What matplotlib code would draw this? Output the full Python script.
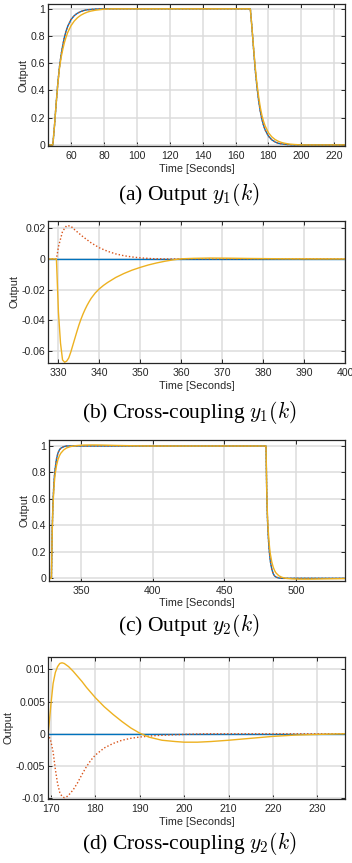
import matplotlib
matplotlib.use("Agg")
import matplotlib.pyplot as plt
from matplotlib.ticker import FuncFormatter

plt.rcParams['font.family'] = ['Liberation Sans', 'DejaVu Sans']
plt.rcParams['mathtext.fontset'] = 'cm'
plt.rcParams['axes.unicode_minus'] = False

BLUE = '#0072BD'
RED = '#D95319'
YELLOW = '#EDB120'
DARK = '#262626'
GRID = '#dcdcdc'

# ---- (a) Output y1(k) ----
a_blue_t = [46, 49, 50, 51, 52, 53, 54, 55, 56, 57, 58, 60, 62, 64, 66, 68, 70, 75, 80,
            169, 170, 171, 172, 173, 174, 175, 176, 177, 178, 180, 182, 184, 186, 190, 195, 226.5]
a_blue_y = [0, 0, 0.14, 0.30, 0.45, 0.57, 0.66, 0.73, 0.79, 0.835, 0.87, 0.92, 0.95, 0.968, 0.98, 0.988, 0.993, 0.998, 1.0,
            1.0, 0.86, 0.70, 0.55, 0.43, 0.33, 0.25, 0.19, 0.145, 0.11, 0.065, 0.038, 0.022, 0.012, 0.004, 0.0, 0.0]
a_yel_t = [46, 49, 50, 51, 52, 53, 54, 55, 56, 57, 58, 60, 62, 64, 66, 68, 70, 72, 75, 80, 85,
           169, 170, 171, 172, 173, 174, 175, 176, 177, 178, 180, 182, 184, 186, 188, 190, 193, 196, 200, 226.5]
a_yel_y = [0, 0, 0.14, 0.30, 0.44, 0.56, 0.64, 0.70, 0.75, 0.79, 0.825, 0.875, 0.91, 0.935, 0.953, 0.966, 0.976, 0.983, 0.99, 0.997, 1.0,
           1.0, 0.86, 0.71, 0.57, 0.45, 0.36, 0.28, 0.22, 0.175, 0.14, 0.09, 0.06, 0.04, 0.027, 0.018, 0.012, 0.006, 0.003, 0.0, 0.0]

# ---- (b) Cross-coupling y1(k) ----
b_blue_t = [327.5, 400]
b_blue_y = [0, 0]
b_red_t = [327.5, 329.5, 330, 331, 332, 333, 334, 336, 338, 340, 342, 344, 346, 348, 350, 353, 356, 400]
b_red_y = [0, 0, 0.008, 0.018, 0.0218, 0.0215, 0.019, 0.0145, 0.0105, 0.0073, 0.005, 0.0033, 0.0021, 0.0013, 0.0007, 0.0002, 0, 0]
b_yel_t = [327.5, 329.5, 330, 330.5, 331, 331.5, 332, 332.5, 333, 333.5, 334, 334.5, 335, 335.5, 336, 336.5, 337,
           337.5, 338, 339, 340, 341, 342, 344, 346, 348, 350, 352, 354, 356, 358, 360, 363, 367, 372, 377, 385, 400]
b_yel_y = [0, 0, -0.035, -0.055, -0.066, -0.0675, -0.0668, -0.0648, -0.061, -0.0565, -0.052, -0.0475, -0.0432,
           -0.0394, -0.036, -0.033, -0.0303, -0.0279, -0.0257, -0.0222, -0.0195, -0.0173, -0.0154, -0.0121, -0.0095,
           -0.0073, -0.0055, -0.0039, -0.0026, -0.0015, -0.0006, 0.0001, 0.0004, 0.0006, 0.0005, 0.0003, 0.0001, 0]

# ---- (c) Output y2(k) ----
c_blue_t = [328, 329.5, 330, 330.5, 331, 331.5, 332, 333, 334, 335, 336, 338, 340,
            479, 479.5, 480, 480.5, 481, 481.5, 482, 483, 484, 485, 486, 488, 490, 534]
c_blue_y = [0, 0, 0.35, 0.55, 0.67, 0.76, 0.82, 0.90, 0.945, 0.97, 0.983, 0.995, 1.0,
            1.0, 0.65, 0.45, 0.33, 0.24, 0.18, 0.13, 0.07, 0.035, 0.018, 0.009, 0.002, 0, 0]
c_yel_t = [328, 329.5, 330, 330.5, 331, 331.5, 332, 333, 334, 335, 336, 338, 340, 343, 347, 352, 358, 365, 375, 390, 400,
           479, 479.5, 480, 480.5, 481, 481.5, 482, 483, 484, 485, 486, 488, 490, 493, 497, 502, 510, 520, 534]
c_yel_y = [0, 0, 0.33, 0.52, 0.64, 0.72, 0.78, 0.85, 0.895, 0.925, 0.945, 0.97, 0.985, 0.996, 1.003, 1.007, 1.008, 1.007, 1.004, 1.001, 1.0,
           1.0, 0.67, 0.48, 0.37, 0.29, 0.23, 0.185, 0.125, 0.085, 0.058, 0.04, 0.019, 0.008, 0.0, -0.004, -0.006, -0.006, -0.004, -0.002]

# ---- (d) Cross-coupling y2(k) ----
d_blue_t = [169.4, 236.2]
d_blue_y = [0, 0]
d_red_t = [169.4, 170, 170.5, 171, 171.5, 172, 172.5, 173, 173.5, 174, 175, 176, 177, 178, 179, 180,
           182, 184, 186, 188, 190, 193, 196, 200, 205, 236.2]
d_red_y = [0, -0.0012, -0.0028, -0.0055, -0.0077, -0.0091, -0.0097, -0.0099, -0.0098, -0.0095, -0.0087, -0.0076,
           -0.0063, -0.0051, -0.0041, -0.0033, -0.0022, -0.0015, -0.001, -0.0007, -0.0005, -0.0003, -0.0002, -0.0001, 0, 0]
d_yel_t = [169.4, 170, 170.5, 171, 171.5, 172, 172.5, 173, 174, 175, 176, 177, 178, 179, 180, 182, 184, 186, 188,
           190, 192, 195, 198, 200, 203, 206, 210, 215, 220, 225, 230, 236.2]
d_yel_y = [0, 0.0045, 0.0078, 0.0095, 0.0104, 0.0109, 0.011, 0.0109, 0.0104, 0.0097, 0.0089, 0.0081, 0.0072,
           0.0064, 0.0056, 0.0042, 0.003, 0.0019, 0.0009, 0.0001, -0.0005, -0.001, -0.0012, -0.0013, -0.0013,
           -0.0012, -0.001, -0.0007, -0.0004, -0.0002, -0.0001, 0]

panels = [
    dict(rect=[0.137, 0.8308, 0.843, 0.1645], xlim=(46.2, 226.5), ylim=(-0.008, 1.035),
         xticks=range(60, 221, 20), yticks=[0, 0.2, 0.4, 0.6, 0.8, 1],
         blue=(a_blue_t, a_blue_y), red=(a_blue_t, a_blue_y), yel=(a_yel_t, a_yel_y),
         caption=r'(a) Output $y_1(k)$', cap_y=1 - 195 / 863),
    dict(rect=[0.137, 0.5794, 0.843, 0.1645], xlim=(327.5, 400), ylim=(-0.068, 0.0248),
         xticks=range(330, 401, 10), yticks=[-0.06, -0.04, -0.02, 0, 0.02],
         blue=(b_blue_t, b_blue_y), red=(b_red_t, b_red_y), yel=(b_yel_t, b_yel_y),
         caption=r'(b) Cross-coupling $y_1(k)$', cap_y=1 - 412 / 863),
    dict(rect=[0.140, 0.3271, 0.840, 0.163], xlim=(328, 534), ylim=(-0.018, 1.045),
         xticks=range(350, 501, 50), yticks=[0, 0.2, 0.4, 0.6, 0.8, 1],
         blue=(c_blue_t, c_blue_y), red=(c_blue_t, c_blue_y), yel=(c_yel_t, c_yel_y),
         caption=r'(c) Output $y_2(k)$', cap_y=1 - 625 / 863),
    dict(rect=[0.137, 0.0742, 0.843, 0.1645], xlim=(169.4, 236.2), ylim=(-0.0101, 0.0119),
         xticks=range(170, 231, 10), yticks=[-0.01, -0.005, 0, 0.005, 0.01],
         blue=(d_blue_t, d_blue_y), red=(d_red_t, d_red_y), yel=(d_yel_t, d_yel_y),
         caption=r'(d) Cross-coupling $y_2(k)$', cap_y=1 - 843 / 863),
]

fig = plt.figure(figsize=(3.52, 8.63), dpi=100)

for p in panels:
    ax = fig.add_axes(p['rect'])
    ax.plot(*p['blue'], color=BLUE, lw=1.0)
    ax.plot(*p['red'], color=RED, lw=1.0, ls=(0, (1, 1.5)))
    ax.plot(*p['yel'], color=YELLOW, lw=1.0)
    ax.set_xlim(*p['xlim'])
    ax.set_ylim(*p['ylim'])
    ax.set_xticks(list(p['xticks']))
    ax.set_yticks(p['yticks'])
    ax.yaxis.set_major_formatter(FuncFormatter(lambda v, pos: f'{v:g}'))
    ax.grid(True, color=GRID, lw=1.1)
    ax.set_axisbelow(True)
    for s in ax.spines.values():
        s.set_color(DARK)
        s.set_linewidth(0.9)
    ax.tick_params(axis='x', pad=3.5)
    ax.tick_params(direction='in', top=True, right=True, length=3, width=0.7,
                   colors=DARK, labelsize=7.6)
    ax.tick_params(axis='y', pad=2)
    ax.set_xlabel('Time [Seconds]', fontsize=7.8, color=DARK, labelpad=2)
    ax.set_ylabel('Output', fontsize=7.8, color=DARK, labelpad=1.5)
    fig.text(0.537, p['cap_y'], p['caption'], ha='center', va='center',
             fontsize=15.5, family=['Liberation Serif', 'DejaVu Serif'])

fig.savefig('out.png', dpi=100)
